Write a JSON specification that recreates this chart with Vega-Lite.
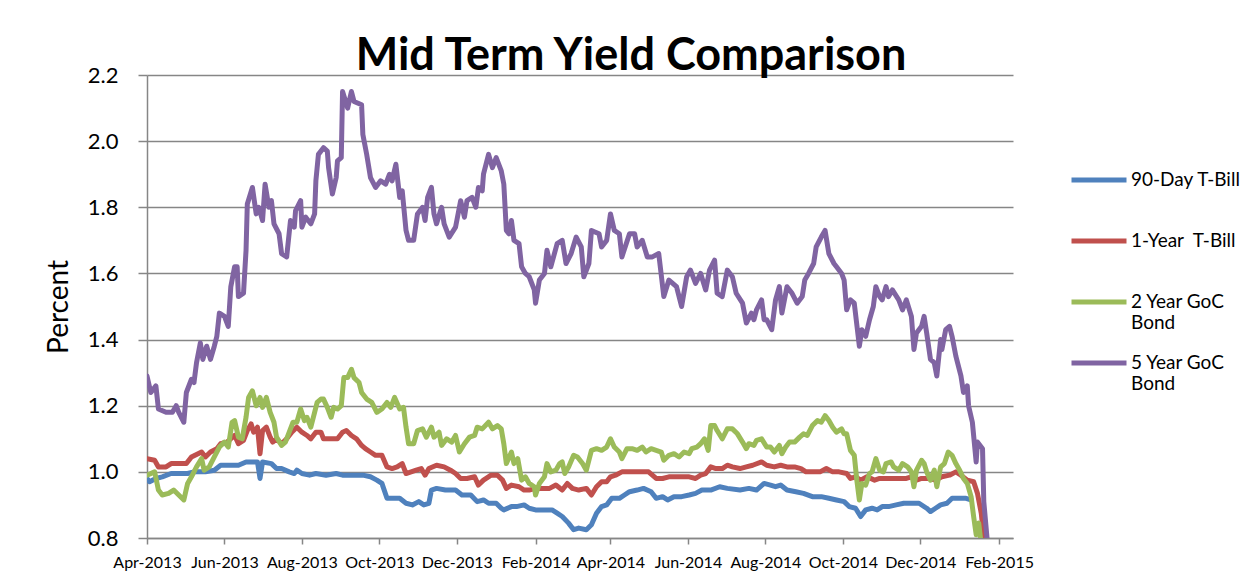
{
"$schema":"https://vega.github.io/schema/vega-lite/v6.json",
"width":866,"height":463,
"autosize":{"type":"none"},
"padding":{"left":147,"top":75,"right":237,"bottom":39},
"background":"white",
"config":{"view":{"stroke":null},"font":"Lato"},
"title":{"text":"Mid Term Yield Comparison","font":"Lato","fontSize":45,"fontWeight":"bold","color":"black","anchor":"middle","dx":51,"dy":53,"baseline":"alphabetic","offset":2},
"data":{"values":[
{"d":"2013-04-01","s":"90d","v":0.98},{"d":"2013-04-03","s":"90d","v":0.97},{"d":"2013-04-08","s":"90d","v":0.98},{"d":"2013-04-13","s":"90d","v":0.985},{"d":"2013-04-20","s":"90d","v":0.995},{"d":"2013-04-26","s":"90d","v":0.995},{"d":"2013-05-03","s":"90d","v":0.995},{"d":"2013-05-08","s":"90d","v":1.0},{"d":"2013-05-17","s":"90d","v":1.0},{"d":"2013-05-24","s":"90d","v":1.005},{"d":"2013-05-29","s":"90d","v":1.02},{"d":"2013-06-05","s":"90d","v":1.02},{"d":"2013-06-12","s":"90d","v":1.02},{"d":"2013-06-18","s":"90d","v":1.03},{"d":"2013-06-24","s":"90d","v":1.03},{"d":"2013-06-27","s":"90d","v":1.03},{"d":"2013-06-29","s":"90d","v":0.98},{"d":"2013-07-01","s":"90d","v":1.03},{"d":"2013-07-08","s":"90d","v":1.025},{"d":"2013-07-12","s":"90d","v":1.01},{"d":"2013-07-16","s":"90d","v":1.01},{"d":"2013-07-22","s":"90d","v":1.0},{"d":"2013-07-26","s":"90d","v":0.995},{"d":"2013-07-28","s":"90d","v":1.005},{"d":"2013-08-01","s":"90d","v":0.995},{"d":"2013-08-07","s":"90d","v":0.99},{"d":"2013-08-12","s":"90d","v":0.995},{"d":"2013-08-20","s":"90d","v":0.99},{"d":"2013-08-28","s":"90d","v":0.995},{"d":"2013-09-02","s":"90d","v":0.99},{"d":"2013-09-09","s":"90d","v":0.99},{"d":"2013-09-18","s":"90d","v":0.99},{"d":"2013-09-24","s":"90d","v":0.985},{"d":"2013-09-29","s":"90d","v":0.975},{"d":"2013-10-03","s":"90d","v":0.965},{"d":"2013-10-07","s":"90d","v":0.92},{"d":"2013-10-11","s":"90d","v":0.92},{"d":"2013-10-17","s":"90d","v":0.92},{"d":"2013-10-22","s":"90d","v":0.905},{"d":"2013-10-27","s":"90d","v":0.9},{"d":"2013-11-01","s":"90d","v":0.91},{"d":"2013-11-05","s":"90d","v":0.9},{"d":"2013-11-09","s":"90d","v":0.905},{"d":"2013-11-11","s":"90d","v":0.945},{"d":"2013-11-15","s":"90d","v":0.95},{"d":"2013-11-22","s":"90d","v":0.945},{"d":"2013-11-30","s":"90d","v":0.945},{"d":"2013-12-05","s":"90d","v":0.93},{"d":"2013-12-12","s":"90d","v":0.93},{"d":"2013-12-17","s":"90d","v":0.91},{"d":"2013-12-22","s":"90d","v":0.915},{"d":"2013-12-26","s":"90d","v":0.905},{"d":"2014-01-01","s":"90d","v":0.905},{"d":"2014-01-05","s":"90d","v":0.89},{"d":"2014-01-07","s":"90d","v":0.885},{"d":"2014-01-13","s":"90d","v":0.895},{"d":"2014-01-17","s":"90d","v":0.895},{"d":"2014-01-23","s":"90d","v":0.9},{"d":"2014-01-27","s":"90d","v":0.89},{"d":"2014-02-01","s":"90d","v":0.885},{"d":"2014-02-08","s":"90d","v":0.885},{"d":"2014-02-14","s":"90d","v":0.885},{"d":"2014-02-18","s":"90d","v":0.875},{"d":"2014-02-22","s":"90d","v":0.865},{"d":"2014-02-27","s":"90d","v":0.845},{"d":"2014-03-03","s":"90d","v":0.825},{"d":"2014-03-07","s":"90d","v":0.83},{"d":"2014-03-13","s":"90d","v":0.825},{"d":"2014-03-17","s":"90d","v":0.84},{"d":"2014-03-21","s":"90d","v":0.875},{"d":"2014-03-25","s":"90d","v":0.895},{"d":"2014-03-29","s":"90d","v":0.9},{"d":"2014-04-02","s":"90d","v":0.92},{"d":"2014-04-08","s":"90d","v":0.92},{"d":"2014-04-12","s":"90d","v":0.93},{"d":"2014-04-16","s":"90d","v":0.94},{"d":"2014-04-22","s":"90d","v":0.945},{"d":"2014-04-27","s":"90d","v":0.95},{"d":"2014-05-03","s":"90d","v":0.94},{"d":"2014-05-07","s":"90d","v":0.92},{"d":"2014-05-12","s":"90d","v":0.925},{"d":"2014-05-16","s":"90d","v":0.915},{"d":"2014-05-21","s":"90d","v":0.925},{"d":"2014-05-27","s":"90d","v":0.925},{"d":"2014-06-02","s":"90d","v":0.93},{"d":"2014-06-07","s":"90d","v":0.935},{"d":"2014-06-12","s":"90d","v":0.945},{"d":"2014-06-19","s":"90d","v":0.945},{"d":"2014-06-26","s":"90d","v":0.955},{"d":"2014-07-02","s":"90d","v":0.95},{"d":"2014-07-12","s":"90d","v":0.945},{"d":"2014-07-19","s":"90d","v":0.95},{"d":"2014-07-25","s":"90d","v":0.945},{"d":"2014-07-31","s":"90d","v":0.965},{"d":"2014-08-05","s":"90d","v":0.96},{"d":"2014-08-09","s":"90d","v":0.955},{"d":"2014-08-13","s":"90d","v":0.96},{"d":"2014-08-18","s":"90d","v":0.945},{"d":"2014-08-25","s":"90d","v":0.94},{"d":"2014-08-31","s":"90d","v":0.935},{"d":"2014-09-07","s":"90d","v":0.925},{"d":"2014-09-14","s":"90d","v":0.925},{"d":"2014-09-20","s":"90d","v":0.92},{"d":"2014-09-26","s":"90d","v":0.915},{"d":"2014-10-02","s":"90d","v":0.91},{"d":"2014-10-06","s":"90d","v":0.895},{"d":"2014-10-11","s":"90d","v":0.89},{"d":"2014-10-15","s":"90d","v":0.865},{"d":"2014-10-19","s":"90d","v":0.885},{"d":"2014-10-24","s":"90d","v":0.89},{"d":"2014-10-28","s":"90d","v":0.885},{"d":"2014-11-01","s":"90d","v":0.895},{"d":"2014-11-06","s":"90d","v":0.895},{"d":"2014-11-12","s":"90d","v":0.9},{"d":"2014-11-18","s":"90d","v":0.905},{"d":"2014-11-25","s":"90d","v":0.905},{"d":"2014-11-30","s":"90d","v":0.905},{"d":"2014-12-06","s":"90d","v":0.89},{"d":"2014-12-09","s":"90d","v":0.88},{"d":"2014-12-13","s":"90d","v":0.89},{"d":"2014-12-17","s":"90d","v":0.9},{"d":"2014-12-22","s":"90d","v":0.905},{"d":"2014-12-26","s":"90d","v":0.92},{"d":"2015-01-01","s":"90d","v":0.92},{"d":"2015-01-06","s":"90d","v":0.92},{"d":"2015-01-10","s":"90d","v":0.915},
{"d":"2013-04-01","s":"1y","v":1.04},{"d":"2013-04-07","s":"1y","v":1.035},{"d":"2013-04-10","s":"1y","v":1.015},{"d":"2013-04-16","s":"1y","v":1.015},{"d":"2013-04-20","s":"1y","v":1.025},{"d":"2013-04-26","s":"1y","v":1.025},{"d":"2013-05-02","s":"1y","v":1.025},{"d":"2013-05-06","s":"1y","v":1.045},{"d":"2013-05-14","s":"1y","v":1.06},{"d":"2013-05-17","s":"1y","v":1.045},{"d":"2013-05-21","s":"1y","v":1.06},{"d":"2013-05-26","s":"1y","v":1.07},{"d":"2013-05-29","s":"1y","v":1.085},{"d":"2013-06-03","s":"1y","v":1.09},{"d":"2013-06-09","s":"1y","v":1.11},{"d":"2013-06-12","s":"1y","v":1.085},{"d":"2013-06-16","s":"1y","v":1.095},{"d":"2013-06-19","s":"1y","v":1.125},{"d":"2013-06-22","s":"1y","v":1.145},{"d":"2013-06-24","s":"1y","v":1.12},{"d":"2013-06-27","s":"1y","v":1.135},{"d":"2013-06-29","s":"1y","v":1.055},{"d":"2013-07-01","s":"1y","v":1.125},{"d":"2013-07-04","s":"1y","v":1.135},{"d":"2013-07-07","s":"1y","v":1.105},{"d":"2013-07-09","s":"1y","v":1.09},{"d":"2013-07-12","s":"1y","v":1.1},{"d":"2013-07-16","s":"1y","v":1.085},{"d":"2013-07-20","s":"1y","v":1.1},{"d":"2013-07-24","s":"1y","v":1.12},{"d":"2013-07-28","s":"1y","v":1.135},{"d":"2013-08-01","s":"1y","v":1.12},{"d":"2013-08-05","s":"1y","v":1.11},{"d":"2013-08-08","s":"1y","v":1.1},{"d":"2013-08-12","s":"1y","v":1.12},{"d":"2013-08-16","s":"1y","v":1.12},{"d":"2013-08-18","s":"1y","v":1.1},{"d":"2013-08-24","s":"1y","v":1.1},{"d":"2013-08-29","s":"1y","v":1.1},{"d":"2013-09-02","s":"1y","v":1.12},{"d":"2013-09-05","s":"1y","v":1.125},{"d":"2013-09-09","s":"1y","v":1.11},{"d":"2013-09-13","s":"1y","v":1.1},{"d":"2013-09-17","s":"1y","v":1.08},{"d":"2013-09-20","s":"1y","v":1.07},{"d":"2013-09-24","s":"1y","v":1.06},{"d":"2013-09-28","s":"1y","v":1.05},{"d":"2013-10-03","s":"1y","v":1.05},{"d":"2013-10-07","s":"1y","v":1.015},{"d":"2013-10-11","s":"1y","v":1.01},{"d":"2013-10-15","s":"1y","v":1.015},{"d":"2013-10-19","s":"1y","v":1.025},{"d":"2013-10-22","s":"1y","v":0.995},{"d":"2013-10-26","s":"1y","v":1.0},{"d":"2013-10-30","s":"1y","v":1.005},{"d":"2013-11-03","s":"1y","v":1.01},{"d":"2013-11-06","s":"1y","v":0.99},{"d":"2013-11-09","s":"1y","v":1.01},{"d":"2013-11-15","s":"1y","v":1.02},{"d":"2013-11-21","s":"1y","v":1.015},{"d":"2013-11-26","s":"1y","v":1.005},{"d":"2013-11-30","s":"1y","v":0.995},{"d":"2013-12-04","s":"1y","v":0.98},{"d":"2013-12-09","s":"1y","v":0.98},{"d":"2013-12-15","s":"1y","v":0.985},{"d":"2013-12-18","s":"1y","v":0.96},{"d":"2013-12-22","s":"1y","v":0.975},{"d":"2013-12-28","s":"1y","v":0.99},{"d":"2014-01-02","s":"1y","v":0.99},{"d":"2014-01-06","s":"1y","v":0.975},{"d":"2014-01-09","s":"1y","v":0.95},{"d":"2014-01-13","s":"1y","v":0.96},{"d":"2014-01-19","s":"1y","v":0.955},{"d":"2014-01-23","s":"1y","v":0.945},{"d":"2014-01-27","s":"1y","v":0.945},{"d":"2014-02-01","s":"1y","v":0.95},{"d":"2014-02-06","s":"1y","v":0.95},{"d":"2014-02-12","s":"1y","v":0.95},{"d":"2014-02-17","s":"1y","v":0.96},{"d":"2014-02-22","s":"1y","v":0.945},{"d":"2014-02-26","s":"1y","v":0.965},{"d":"2014-03-02","s":"1y","v":0.95},{"d":"2014-03-07","s":"1y","v":0.945},{"d":"2014-03-13","s":"1y","v":0.95},{"d":"2014-03-17","s":"1y","v":0.93},{"d":"2014-03-21","s":"1y","v":0.955},{"d":"2014-03-25","s":"1y","v":0.97},{"d":"2014-03-29","s":"1y","v":0.97},{"d":"2014-04-01","s":"1y","v":0.985},{"d":"2014-04-05","s":"1y","v":0.99},{"d":"2014-04-10","s":"1y","v":1.0},{"d":"2014-04-16","s":"1y","v":1.0},{"d":"2014-04-24","s":"1y","v":1.0},{"d":"2014-05-01","s":"1y","v":1.0},{"d":"2014-05-07","s":"1y","v":0.98},{"d":"2014-05-12","s":"1y","v":0.98},{"d":"2014-05-17","s":"1y","v":0.985},{"d":"2014-05-23","s":"1y","v":0.985},{"d":"2014-05-27","s":"1y","v":0.985},{"d":"2014-06-02","s":"1y","v":0.985},{"d":"2014-06-07","s":"1y","v":0.98},{"d":"2014-06-11","s":"1y","v":0.99},{"d":"2014-06-15","s":"1y","v":0.995},{"d":"2014-06-19","s":"1y","v":1.015},{"d":"2014-06-23","s":"1y","v":1.01},{"d":"2014-06-28","s":"1y","v":1.01},{"d":"2014-07-02","s":"1y","v":1.02},{"d":"2014-07-06","s":"1y","v":1.015},{"d":"2014-07-12","s":"1y","v":1.01},{"d":"2014-07-17","s":"1y","v":1.015},{"d":"2014-07-22","s":"1y","v":1.02},{"d":"2014-07-29","s":"1y","v":1.03},{"d":"2014-08-02","s":"1y","v":1.02},{"d":"2014-08-08","s":"1y","v":1.015},{"d":"2014-08-13","s":"1y","v":1.02},{"d":"2014-08-18","s":"1y","v":1.015},{"d":"2014-08-24","s":"1y","v":1.015},{"d":"2014-08-29","s":"1y","v":1.01},{"d":"2014-09-02","s":"1y","v":1.0},{"d":"2014-09-07","s":"1y","v":1.0},{"d":"2014-09-13","s":"1y","v":1.0},{"d":"2014-09-18","s":"1y","v":1.01},{"d":"2014-09-23","s":"1y","v":1.0},{"d":"2014-09-28","s":"1y","v":1.0},{"d":"2014-10-04","s":"1y","v":0.995},{"d":"2014-10-07","s":"1y","v":0.98},{"d":"2014-10-11","s":"1y","v":0.985},{"d":"2014-10-15","s":"1y","v":0.975},{"d":"2014-10-20","s":"1y","v":0.985},{"d":"2014-10-26","s":"1y","v":0.975},{"d":"2014-10-30","s":"1y","v":0.98},{"d":"2014-11-04","s":"1y","v":0.98},{"d":"2014-11-09","s":"1y","v":0.98},{"d":"2014-11-14","s":"1y","v":0.98},{"d":"2014-11-20","s":"1y","v":0.98},{"d":"2014-11-24","s":"1y","v":0.985},{"d":"2014-11-28","s":"1y","v":0.975},{"d":"2014-12-02","s":"1y","v":0.98},{"d":"2014-12-08","s":"1y","v":0.98},{"d":"2014-12-13","s":"1y","v":0.975},{"d":"2014-12-18","s":"1y","v":0.985},{"d":"2014-12-24","s":"1y","v":0.99},{"d":"2014-12-29","s":"1y","v":1.0},{"d":"2015-01-02","s":"1y","v":0.99},{"d":"2015-01-07","s":"1y","v":0.975},{"d":"2015-01-12","s":"1y","v":0.97},{"d":"2015-01-15","s":"1y","v":0.935},{"d":"2015-01-18","s":"1y","v":0.875},{"d":"2015-01-20","s":"1y","v":0.8},{"d":"2015-01-23","s":"1y","v":0.72},
{"d":"2013-04-01","s":"2y","v":0.99},{"d":"2013-04-07","s":"2y","v":1.0},{"d":"2013-04-10","s":"2y","v":0.945},{"d":"2013-04-13","s":"2y","v":0.93},{"d":"2013-04-18","s":"2y","v":0.935},{"d":"2013-04-22","s":"2y","v":0.945},{"d":"2013-04-26","s":"2y","v":0.93},{"d":"2013-04-30","s":"2y","v":0.915},{"d":"2013-05-03","s":"2y","v":0.965},{"d":"2013-05-06","s":"2y","v":0.985},{"d":"2013-05-10","s":"2y","v":1.015},{"d":"2013-05-14","s":"2y","v":1.04},{"d":"2013-05-16","s":"2y","v":1.005},{"d":"2013-05-20","s":"2y","v":1.015},{"d":"2013-05-24","s":"2y","v":1.045},{"d":"2013-05-28","s":"2y","v":1.075},{"d":"2013-06-01","s":"2y","v":1.09},{"d":"2013-06-04","s":"2y","v":1.075},{"d":"2013-06-07","s":"2y","v":1.15},{"d":"2013-06-09","s":"2y","v":1.155},{"d":"2013-06-12","s":"2y","v":1.105},{"d":"2013-06-15","s":"2y","v":1.1},{"d":"2013-06-18","s":"2y","v":1.165},{"d":"2013-06-20","s":"2y","v":1.225},{"d":"2013-06-23","s":"2y","v":1.245},{"d":"2013-06-26","s":"2y","v":1.2},{"d":"2013-06-29","s":"2y","v":1.225},{"d":"2013-07-01","s":"2y","v":1.195},{"d":"2013-07-04","s":"2y","v":1.225},{"d":"2013-07-07","s":"2y","v":1.18},{"d":"2013-07-10","s":"2y","v":1.15},{"d":"2013-07-12","s":"2y","v":1.105},{"d":"2013-07-16","s":"2y","v":1.08},{"d":"2013-07-19","s":"2y","v":1.09},{"d":"2013-07-22","s":"2y","v":1.12},{"d":"2013-07-25","s":"2y","v":1.15},{"d":"2013-07-28","s":"2y","v":1.15},{"d":"2013-07-31","s":"2y","v":1.19},{"d":"2013-08-03","s":"2y","v":1.155},{"d":"2013-08-05","s":"2y","v":1.165},{"d":"2013-08-08","s":"2y","v":1.135},{"d":"2013-08-11","s":"2y","v":1.18},{"d":"2013-08-13","s":"2y","v":1.21},{"d":"2013-08-16","s":"2y","v":1.22},{"d":"2013-08-18","s":"2y","v":1.22},{"d":"2013-08-21","s":"2y","v":1.195},{"d":"2013-08-24","s":"2y","v":1.165},{"d":"2013-08-26","s":"2y","v":1.195},{"d":"2013-08-29","s":"2y","v":1.19},{"d":"2013-09-01","s":"2y","v":1.2},{"d":"2013-09-03","s":"2y","v":1.285},{"d":"2013-09-06","s":"2y","v":1.285},{"d":"2013-09-09","s":"2y","v":1.31},{"d":"2013-09-11","s":"2y","v":1.285},{"d":"2013-09-15","s":"2y","v":1.27},{"d":"2013-09-17","s":"2y","v":1.24},{"d":"2013-09-21","s":"2y","v":1.22},{"d":"2013-09-25","s":"2y","v":1.21},{"d":"2013-09-29","s":"2y","v":1.18},{"d":"2013-10-03","s":"2y","v":1.19},{"d":"2013-10-07","s":"2y","v":1.21},{"d":"2013-10-10","s":"2y","v":1.195},{"d":"2013-10-13","s":"2y","v":1.225},{"d":"2013-10-17","s":"2y","v":1.19},{"d":"2013-10-20","s":"2y","v":1.195},{"d":"2013-10-22","s":"2y","v":1.135},{"d":"2013-10-24","s":"2y","v":1.085},{"d":"2013-10-28","s":"2y","v":1.085},{"d":"2013-10-31","s":"2y","v":1.125},{"d":"2013-11-04","s":"2y","v":1.13},{"d":"2013-11-07","s":"2y","v":1.105},{"d":"2013-11-11","s":"2y","v":1.135},{"d":"2013-11-13","s":"2y","v":1.105},{"d":"2013-11-17","s":"2y","v":1.12},{"d":"2013-11-19","s":"2y","v":1.08},{"d":"2013-11-23","s":"2y","v":1.1},{"d":"2013-11-27","s":"2y","v":1.09},{"d":"2013-11-30","s":"2y","v":1.11},{"d":"2013-12-03","s":"2y","v":1.06},{"d":"2013-12-07","s":"2y","v":1.085},{"d":"2013-12-11","s":"2y","v":1.105},{"d":"2013-12-15","s":"2y","v":1.11},{"d":"2013-12-17","s":"2y","v":1.135},{"d":"2013-12-21","s":"2y","v":1.13},{"d":"2013-12-26","s":"2y","v":1.15},{"d":"2013-12-29","s":"2y","v":1.13},{"d":"2014-01-02","s":"2y","v":1.14},{"d":"2014-01-05","s":"2y","v":1.13},{"d":"2014-01-07","s":"2y","v":1.085},{"d":"2014-01-09","s":"2y","v":1.025},{"d":"2014-01-13","s":"2y","v":1.06},{"d":"2014-01-15","s":"2y","v":1.025},{"d":"2014-01-18","s":"2y","v":1.04},{"d":"2014-01-21","s":"2y","v":0.975},{"d":"2014-01-24","s":"2y","v":0.985},{"d":"2014-01-27","s":"2y","v":0.965},{"d":"2014-01-31","s":"2y","v":0.955},{"d":"2014-02-01","s":"2y","v":0.93},{"d":"2014-02-04","s":"2y","v":0.965},{"d":"2014-02-08","s":"2y","v":0.985},{"d":"2014-02-10","s":"2y","v":1.025},{"d":"2014-02-13","s":"2y","v":1.0},{"d":"2014-02-17","s":"2y","v":1.005},{"d":"2014-02-20","s":"2y","v":1.025},{"d":"2014-02-22","s":"2y","v":1.03},{"d":"2014-02-24","s":"2y","v":0.995},{"d":"2014-02-27","s":"2y","v":1.015},{"d":"2014-03-03","s":"2y","v":1.05},{"d":"2014-03-06","s":"2y","v":1.045},{"d":"2014-03-10","s":"2y","v":1.025},{"d":"2014-03-13","s":"2y","v":1.005},{"d":"2014-03-17","s":"2y","v":1.065},{"d":"2014-03-21","s":"2y","v":1.07},{"d":"2014-03-25","s":"2y","v":1.065},{"d":"2014-03-29","s":"2y","v":1.075},{"d":"2014-04-01","s":"2y","v":1.1},{"d":"2014-04-04","s":"2y","v":1.075},{"d":"2014-04-08","s":"2y","v":1.06},{"d":"2014-04-10","s":"2y","v":1.04},{"d":"2014-04-14","s":"2y","v":1.07},{"d":"2014-04-18","s":"2y","v":1.07},{"d":"2014-04-22","s":"2y","v":1.065},{"d":"2014-04-26","s":"2y","v":1.075},{"d":"2014-04-29","s":"2y","v":1.06},{"d":"2014-05-03","s":"2y","v":1.07},{"d":"2014-05-07","s":"2y","v":1.065},{"d":"2014-05-11","s":"2y","v":1.06},{"d":"2014-05-13","s":"2y","v":1.035},{"d":"2014-05-17","s":"2y","v":1.05},{"d":"2014-05-21","s":"2y","v":1.055},{"d":"2014-05-25","s":"2y","v":1.045},{"d":"2014-05-29","s":"2y","v":1.06},{"d":"2014-06-02","s":"2y","v":1.055},{"d":"2014-06-04","s":"2y","v":1.07},{"d":"2014-06-08","s":"2y","v":1.075},{"d":"2014-06-11","s":"2y","v":1.085},{"d":"2014-06-14","s":"2y","v":1.1},{"d":"2014-06-17","s":"2y","v":1.065},{"d":"2014-06-19","s":"2y","v":1.14},{"d":"2014-06-22","s":"2y","v":1.14},{"d":"2014-06-24","s":"2y","v":1.125},{"d":"2014-06-28","s":"2y","v":1.1},{"d":"2014-07-02","s":"2y","v":1.13},{"d":"2014-07-06","s":"2y","v":1.13},{"d":"2014-07-10","s":"2y","v":1.115},{"d":"2014-07-14","s":"2y","v":1.09},{"d":"2014-07-17","s":"2y","v":1.07},{"d":"2014-07-19","s":"2y","v":1.085},{"d":"2014-07-23","s":"2y","v":1.08},{"d":"2014-07-25","s":"2y","v":1.095},{"d":"2014-07-29","s":"2y","v":1.1},{"d":"2014-08-02","s":"2y","v":1.075},{"d":"2014-08-05","s":"2y","v":1.075},{"d":"2014-08-08","s":"2y","v":1.06},{"d":"2014-08-12","s":"2y","v":1.08},{"d":"2014-08-14","s":"2y","v":1.055},{"d":"2014-08-17","s":"2y","v":1.075},{"d":"2014-08-20","s":"2y","v":1.09},{"d":"2014-08-24","s":"2y","v":1.09},{"d":"2014-08-28","s":"2y","v":1.105},{"d":"2014-08-31","s":"2y","v":1.115},{"d":"2014-09-03","s":"2y","v":1.11},{"d":"2014-09-07","s":"2y","v":1.14},{"d":"2014-09-11","s":"2y","v":1.155},{"d":"2014-09-14","s":"2y","v":1.15},{"d":"2014-09-17","s":"2y","v":1.17},{"d":"2014-09-20","s":"2y","v":1.155},{"d":"2014-09-23","s":"2y","v":1.135},{"d":"2014-09-26","s":"2y","v":1.12},{"d":"2014-09-30","s":"2y","v":1.13},{"d":"2014-10-02","s":"2y","v":1.115},{"d":"2014-10-04","s":"2y","v":1.115},{"d":"2014-10-07","s":"2y","v":1.065},{"d":"2014-10-10","s":"2y","v":1.05},{"d":"2014-10-12","s":"2y","v":0.975},{"d":"2014-10-14","s":"2y","v":0.915},{"d":"2014-10-16","s":"2y","v":0.965},{"d":"2014-10-19","s":"2y","v":0.96},{"d":"2014-10-22","s":"2y","v":0.995},{"d":"2014-10-24","s":"2y","v":1.0},{"d":"2014-10-27","s":"2y","v":1.04},{"d":"2014-10-30","s":"2y","v":1.005},{"d":"2014-11-02","s":"2y","v":1.0},{"d":"2014-11-04","s":"2y","v":1.025},{"d":"2014-11-08","s":"2y","v":1.03},{"d":"2014-11-10","s":"2y","v":1.015},{"d":"2014-11-14","s":"2y","v":1.005},{"d":"2014-11-17","s":"2y","v":1.025},{"d":"2014-11-21","s":"2y","v":1.015},{"d":"2014-11-24","s":"2y","v":1.0},{"d":"2014-11-26","s":"2y","v":0.955},{"d":"2014-11-28","s":"2y","v":1.005},{"d":"2014-12-02","s":"2y","v":1.035},{"d":"2014-12-04","s":"2y","v":1.025},{"d":"2014-12-06","s":"2y","v":1.0},{"d":"2014-12-09","s":"2y","v":0.975},{"d":"2014-12-12","s":"2y","v":1.005},{"d":"2014-12-14","s":"2y","v":0.955},{"d":"2014-12-17","s":"2y","v":1.015},{"d":"2014-12-20","s":"2y","v":1.025},{"d":"2014-12-23","s":"2y","v":1.06},{"d":"2014-12-26","s":"2y","v":1.05},{"d":"2014-12-29","s":"2y","v":1.025},{"d":"2015-01-01","s":"2y","v":1.005},{"d":"2015-01-04","s":"2y","v":0.98},{"d":"2015-01-07","s":"2y","v":0.965},{"d":"2015-01-10","s":"2y","v":0.925},{"d":"2015-01-12","s":"2y","v":0.865},{"d":"2015-01-14","s":"2y","v":0.81},{"d":"2015-01-16","s":"2y","v":0.845},{"d":"2015-01-18","s":"2y","v":0.78},{"d":"2015-01-21","s":"2y","v":0.65},
{"d":"2013-04-01","s":"5y","v":1.29},{"d":"2013-04-04","s":"5y","v":1.24},{"d":"2013-04-08","s":"5y","v":1.26},{"d":"2013-04-10","s":"5y","v":1.19},{"d":"2013-04-16","s":"5y","v":1.18},{"d":"2013-04-21","s":"5y","v":1.18},{"d":"2013-04-24","s":"5y","v":1.2},{"d":"2013-04-26","s":"5y","v":1.18},{"d":"2013-04-30","s":"5y","v":1.15},{"d":"2013-05-02","s":"5y","v":1.24},{"d":"2013-05-06","s":"5y","v":1.28},{"d":"2013-05-08","s":"5y","v":1.27},{"d":"2013-05-10","s":"5y","v":1.33},{"d":"2013-05-13","s":"5y","v":1.39},{"d":"2013-05-15","s":"5y","v":1.34},{"d":"2013-05-18","s":"5y","v":1.38},{"d":"2013-05-21","s":"5y","v":1.34},{"d":"2013-05-24","s":"5y","v":1.38},{"d":"2013-05-26","s":"5y","v":1.41},{"d":"2013-05-28","s":"5y","v":1.48},{"d":"2013-06-01","s":"5y","v":1.47},{"d":"2013-06-04","s":"5y","v":1.44},{"d":"2013-06-06","s":"5y","v":1.56},{"d":"2013-06-09","s":"5y","v":1.62},{"d":"2013-06-11","s":"5y","v":1.62},{"d":"2013-06-12","s":"5y","v":1.53},{"d":"2013-06-16","s":"5y","v":1.54},{"d":"2013-06-18","s":"5y","v":1.67},{"d":"2013-06-19","s":"5y","v":1.81},{"d":"2013-06-23","s":"5y","v":1.86},{"d":"2013-06-26","s":"5y","v":1.78},{"d":"2013-06-28","s":"5y","v":1.8},{"d":"2013-07-01","s":"5y","v":1.76},{"d":"2013-07-03","s":"5y","v":1.87},{"d":"2013-07-06","s":"5y","v":1.8},{"d":"2013-07-08","s":"5y","v":1.82},{"d":"2013-07-10","s":"5y","v":1.75},{"d":"2013-07-14","s":"5y","v":1.72},{"d":"2013-07-16","s":"5y","v":1.66},{"d":"2013-07-20","s":"5y","v":1.65},{"d":"2013-07-23","s":"5y","v":1.76},{"d":"2013-07-26","s":"5y","v":1.74},{"d":"2013-07-27","s":"5y","v":1.79},{"d":"2013-07-31","s":"5y","v":1.82},{"d":"2013-08-01","s":"5y","v":1.74},{"d":"2013-08-04","s":"5y","v":1.77},{"d":"2013-08-08","s":"5y","v":1.75},{"d":"2013-08-11","s":"5y","v":1.78},{"d":"2013-08-12","s":"5y","v":1.88},{"d":"2013-08-14","s":"5y","v":1.96},{"d":"2013-08-18","s":"5y","v":1.98},{"d":"2013-08-21","s":"5y","v":1.97},{"d":"2013-08-22","s":"5y","v":1.92},{"d":"2013-08-25","s":"5y","v":1.84},{"d":"2013-08-28","s":"5y","v":1.89},{"d":"2013-08-29","s":"5y","v":1.94},{"d":"2013-09-01","s":"5y","v":1.95},{"d":"2013-09-02","s":"5y","v":2.15},{"d":"2013-09-06","s":"5y","v":2.1},{"d":"2013-09-09","s":"5y","v":2.15},{"d":"2013-09-11","s":"5y","v":2.12},{"d":"2013-09-17","s":"5y","v":2.11},{"d":"2013-09-18","s":"5y","v":2.02},{"d":"2013-09-21","s":"5y","v":1.96},{"d":"2013-09-24","s":"5y","v":1.89},{"d":"2013-09-28","s":"5y","v":1.86},{"d":"2013-10-02","s":"5y","v":1.88},{"d":"2013-10-06","s":"5y","v":1.87},{"d":"2013-10-09","s":"5y","v":1.9},{"d":"2013-10-11","s":"5y","v":1.88},{"d":"2013-10-14","s":"5y","v":1.93},{"d":"2013-10-17","s":"5y","v":1.83},{"d":"2013-10-19","s":"5y","v":1.85},{"d":"2013-10-22","s":"5y","v":1.73},{"d":"2013-10-24","s":"5y","v":1.7},{"d":"2013-10-28","s":"5y","v":1.7},{"d":"2013-10-31","s":"5y","v":1.78},{"d":"2013-11-04","s":"5y","v":1.8},{"d":"2013-11-06","s":"5y","v":1.76},{"d":"2013-11-08","s":"5y","v":1.83},{"d":"2013-11-11","s":"5y","v":1.86},{"d":"2013-11-13","s":"5y","v":1.78},{"d":"2013-11-15","s":"5y","v":1.75},{"d":"2013-11-19","s":"5y","v":1.8},{"d":"2013-11-21","s":"5y","v":1.75},{"d":"2013-11-25","s":"5y","v":1.71},{"d":"2013-11-30","s":"5y","v":1.74},{"d":"2013-12-04","s":"5y","v":1.82},{"d":"2013-12-07","s":"5y","v":1.77},{"d":"2013-12-09","s":"5y","v":1.82},{"d":"2013-12-13","s":"5y","v":1.83},{"d":"2013-12-16","s":"5y","v":1.8},{"d":"2013-12-18","s":"5y","v":1.86},{"d":"2013-12-21","s":"5y","v":1.85},{"d":"2013-12-22","s":"5y","v":1.9},{"d":"2013-12-26","s":"5y","v":1.96},{"d":"2013-12-29","s":"5y","v":1.92},{"d":"2014-01-01","s":"5y","v":1.95},{"d":"2014-01-05","s":"5y","v":1.91},{"d":"2014-01-07","s":"5y","v":1.87},{"d":"2014-01-09","s":"5y","v":1.73},{"d":"2014-01-11","s":"5y","v":1.72},{"d":"2014-01-13","s":"5y","v":1.76},{"d":"2014-01-15","s":"5y","v":1.7},{"d":"2014-01-19","s":"5y","v":1.69},{"d":"2014-01-21","s":"5y","v":1.62},{"d":"2014-01-24","s":"5y","v":1.6},{"d":"2014-01-27","s":"5y","v":1.59},{"d":"2014-01-31","s":"5y","v":1.55},{"d":"2014-02-01","s":"5y","v":1.51},{"d":"2014-02-04","s":"5y","v":1.58},{"d":"2014-02-08","s":"5y","v":1.6},{"d":"2014-02-10","s":"5y","v":1.67},{"d":"2014-02-13","s":"5y","v":1.62},{"d":"2014-02-18","s":"5y","v":1.69},{"d":"2014-02-22","s":"5y","v":1.7},{"d":"2014-02-25","s":"5y","v":1.63},{"d":"2014-03-01","s":"5y","v":1.66},{"d":"2014-03-05","s":"5y","v":1.71},{"d":"2014-03-09","s":"5y","v":1.68},{"d":"2014-03-11","s":"5y","v":1.59},{"d":"2014-03-15","s":"5y","v":1.63},{"d":"2014-03-17","s":"5y","v":1.73},{"d":"2014-03-23","s":"5y","v":1.72},{"d":"2014-03-25","s":"5y","v":1.68},{"d":"2014-03-29","s":"5y","v":1.7},{"d":"2014-04-01","s":"5y","v":1.78},{"d":"2014-04-04","s":"5y","v":1.73},{"d":"2014-04-08","s":"5y","v":1.72},{"d":"2014-04-10","s":"5y","v":1.65},{"d":"2014-04-16","s":"5y","v":1.72},{"d":"2014-04-20","s":"5y","v":1.72},{"d":"2014-04-22","s":"5y","v":1.68},{"d":"2014-04-26","s":"5y","v":1.7},{"d":"2014-04-30","s":"5y","v":1.65},{"d":"2014-05-04","s":"5y","v":1.65},{"d":"2014-05-09","s":"5y","v":1.66},{"d":"2014-05-13","s":"5y","v":1.53},{"d":"2014-05-17","s":"5y","v":1.58},{"d":"2014-05-23","s":"5y","v":1.56},{"d":"2014-05-27","s":"5y","v":1.5},{"d":"2014-05-31","s":"5y","v":1.59},{"d":"2014-06-03","s":"5y","v":1.61},{"d":"2014-06-07","s":"5y","v":1.57},{"d":"2014-06-11","s":"5y","v":1.6},{"d":"2014-06-15","s":"5y","v":1.55},{"d":"2014-06-18","s":"5y","v":1.61},{"d":"2014-06-22","s":"5y","v":1.64},{"d":"2014-06-24","s":"5y","v":1.54},{"d":"2014-06-28","s":"5y","v":1.53},{"d":"2014-07-02","s":"5y","v":1.61},{"d":"2014-07-06","s":"5y","v":1.59},{"d":"2014-07-09","s":"5y","v":1.54},{"d":"2014-07-14","s":"5y","v":1.51},{"d":"2014-07-17","s":"5y","v":1.45},{"d":"2014-07-21","s":"5y","v":1.48},{"d":"2014-07-23","s":"5y","v":1.46},{"d":"2014-07-25","s":"5y","v":1.49},{"d":"2014-07-29","s":"5y","v":1.52},{"d":"2014-07-31","s":"5y","v":1.46},{"d":"2014-08-02","s":"5y","v":1.46},{"d":"2014-08-06","s":"5y","v":1.43},{"d":"2014-08-09","s":"5y","v":1.52},{"d":"2014-08-12","s":"5y","v":1.56},{"d":"2014-08-14","s":"5y","v":1.48},{"d":"2014-08-18","s":"5y","v":1.56},{"d":"2014-08-22","s":"5y","v":1.54},{"d":"2014-08-26","s":"5y","v":1.51},{"d":"2014-08-30","s":"5y","v":1.53},{"d":"2014-09-01","s":"5y","v":1.58},{"d":"2014-09-04","s":"5y","v":1.6},{"d":"2014-09-08","s":"5y","v":1.63},{"d":"2014-09-10","s":"5y","v":1.68},{"d":"2014-09-14","s":"5y","v":1.71},{"d":"2014-09-17","s":"5y","v":1.73},{"d":"2014-09-20","s":"5y","v":1.66},{"d":"2014-09-24","s":"5y","v":1.63},{"d":"2014-09-26","s":"5y","v":1.62},{"d":"2014-09-30","s":"5y","v":1.6},{"d":"2014-10-02","s":"5y","v":1.58},{"d":"2014-10-04","s":"5y","v":1.49},{"d":"2014-10-07","s":"5y","v":1.52},{"d":"2014-10-10","s":"5y","v":1.51},{"d":"2014-10-14","s":"5y","v":1.38},{"d":"2014-10-16","s":"5y","v":1.43},{"d":"2014-10-19","s":"5y","v":1.41},{"d":"2014-10-22","s":"5y","v":1.46},{"d":"2014-10-25","s":"5y","v":1.5},{"d":"2014-10-27","s":"5y","v":1.56},{"d":"2014-10-30","s":"5y","v":1.53},{"d":"2014-11-01","s":"5y","v":1.52},{"d":"2014-11-04","s":"5y","v":1.56},{"d":"2014-11-06","s":"5y","v":1.53},{"d":"2014-11-09","s":"5y","v":1.55},{"d":"2014-11-14","s":"5y","v":1.52},{"d":"2014-11-17","s":"5y","v":1.49},{"d":"2014-11-20","s":"5y","v":1.52},{"d":"2014-11-24","s":"5y","v":1.47},{"d":"2014-11-26","s":"5y","v":1.37},{"d":"2014-11-28","s":"5y","v":1.42},{"d":"2014-12-02","s":"5y","v":1.44},{"d":"2014-12-04","s":"5y","v":1.47},{"d":"2014-12-06","s":"5y","v":1.42},{"d":"2014-12-09","s":"5y","v":1.34},{"d":"2014-12-12","s":"5y","v":1.33},{"d":"2014-12-14","s":"5y","v":1.29},{"d":"2014-12-17","s":"5y","v":1.4},{"d":"2014-12-18","s":"5y","v":1.37},{"d":"2014-12-21","s":"5y","v":1.43},{"d":"2014-12-24","s":"5y","v":1.44},{"d":"2014-12-26","s":"5y","v":1.41},{"d":"2014-12-29","s":"5y","v":1.35},{"d":"2015-01-02","s":"5y","v":1.29},{"d":"2015-01-04","s":"5y","v":1.24},{"d":"2015-01-07","s":"5y","v":1.26},{"d":"2015-01-08","s":"5y","v":1.2},{"d":"2015-01-11","s":"5y","v":1.15},{"d":"2015-01-14","s":"5y","v":1.03},{"d":"2015-01-15","s":"5y","v":1.09},{"d":"2015-01-19","s":"5y","v":1.07},{"d":"2015-01-20","s":"5y","v":0.91},{"d":"2015-01-23","s":"5y","v":0.78},{"d":"2015-01-26","s":"5y","v":0.7}
]},
"mark":{"type":"line","strokeWidth":5,"strokeJoin":"round","strokeCap":"round","clip":true},
"encoding":{
"x":{"field":"d","type":"temporal",
"scale":{"type":"utc","domain":[{"year":2013,"month":4,"date":1,"utc":true},{"year":2015,"month":2,"date":12,"utc":true}]},
"axis":{"title":null,"labelExpr":"utcFormat(datum.value, '%b-%Y')","grid":false,
"values":[{"year":2013,"month":4,"date":1,"utc":true},{"year":2013,"month":6,"date":1,"utc":true},{"year":2013,"month":8,"date":1,"utc":true},{"year":2013,"month":10,"date":1,"utc":true},{"year":2013,"month":12,"date":1,"utc":true},{"year":2014,"month":2,"date":1,"utc":true},{"year":2014,"month":4,"date":1,"utc":true},{"year":2014,"month":6,"date":1,"utc":true},{"year":2014,"month":8,"date":1,"utc":true},{"year":2014,"month":10,"date":1,"utc":true},{"year":2014,"month":12,"date":1,"utc":true},{"year":2015,"month":2,"date":1,"utc":true}],
"labelFont":"Lato","labelFontSize":16,"labelColor":"black","labelPadding":10,"labelOverlap":false,"labelFlush":false,"labelBound":false,
"domainColor":"#868686","domainWidth":1.5,"tickColor":"#868686","tickWidth":1.5,"tickSize":6}},
"y":{"field":"v","type":"quantitative",
"scale":{"domain":[0.8,2.2],"nice":false,"zero":false},
"axis":{"title":"Percent","titleFont":"Lato","titleFontSize":28,"titleFontWeight":"normal","titleColor":"black","titlePadding":14,
"values":[0.8,1.0,1.2,1.4,1.6,1.8,2.0,2.2],"format":".1f",
"labelFont":"Lato","labelFontSize":22,"labelColor":"black","labelPadding":20,
"grid":true,"gridColor":"#868686","gridWidth":1.5,"domainColor":"#868686","domainWidth":1.5,"tickColor":"#868686","tickWidth":1.5,"tickSize":9}},
"color":{"field":"s","type":"nominal",
"scale":{"domain":["90d","1y","2y","5y"],"range":["#4F81BD","#C0504D","#9BBB59","#8064A2"]},
"legend":{"orient":"none","legendX":922,"legendY":75,"title":null,"padding":0,
"symbolType":"stroke","symbolSize":3025,"symbolStrokeWidth":5,
"labelFont":"Lato","labelFontSize":19,"labelColor":"black","labelOffset":2,"labelLimit":300,"rowPadding":-18,
"labelExpr":"datum.value == '90d' ? ['90-Day T-Bill', ''] : datum.value == '1y' ? ['1-Year\u00a0 T-Bill', ''] : datum.value == '2y' ? ['2 Year GoC', 'Bond'] : ['5 Year GoC', 'Bond']"}}
}
}
